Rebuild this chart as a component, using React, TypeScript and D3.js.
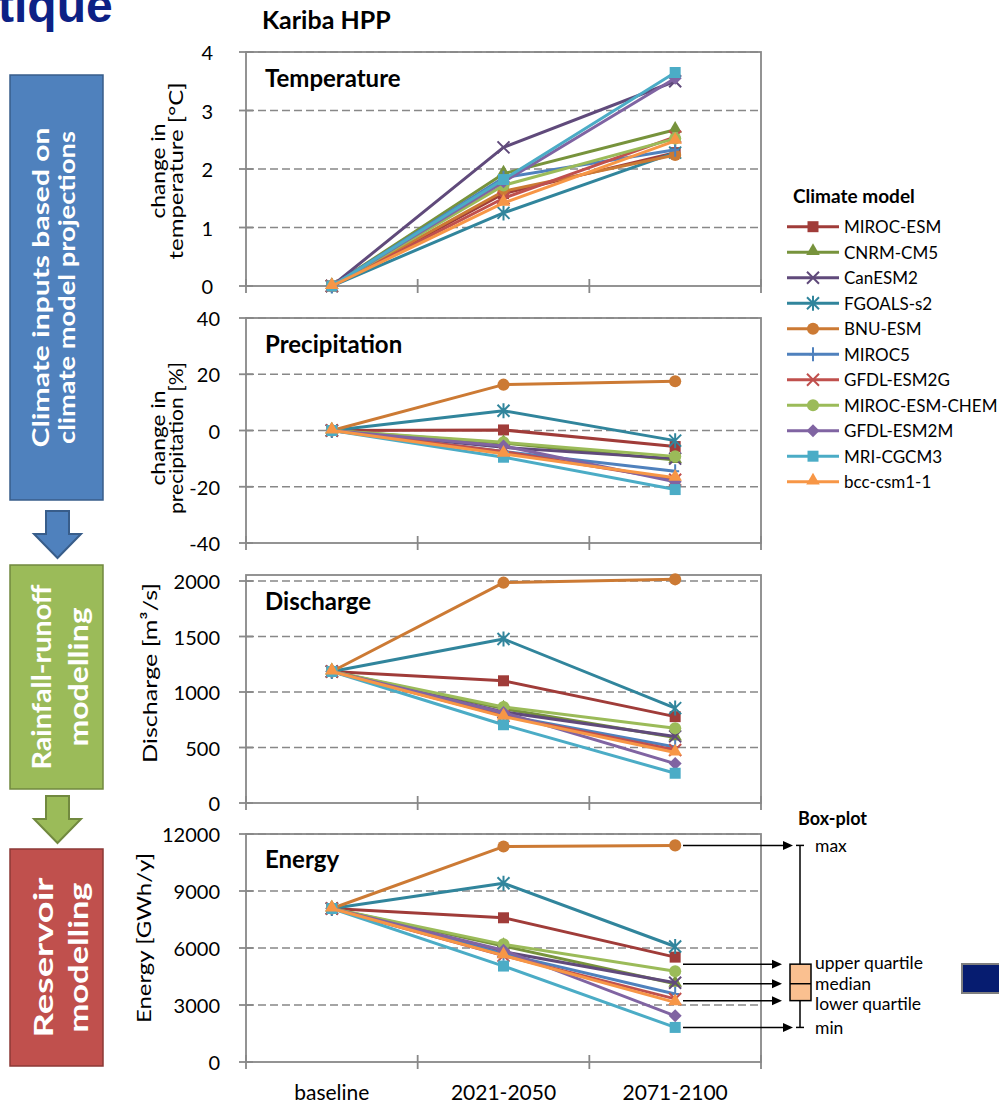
import React from "react";
import * as d3 from "d3";

const periods = ["baseline", "2021-2050", "2071-2100"];
const models = [
  "MIROC-ESM", "CNRM-CM5", "CanESM2", "FGOALS-s2", "BNU-ESM", "MIROC5",
  "GFDL-ESM2G", "MIROC-ESM-CHEM", "GFDL-ESM2M", "MRI-CGCM3", "bcc-csm1-1",
];
const modelColors = [
  "#a03c39", "#77933c", "#604a7b", "#31859c", "#cc7a34", "#4f81bd",
  "#c0504d", "#9bbb59", "#8064a2", "#4bacc6", "#f79646",
];
const modelMarkers = [
  "square", "triangle", "times", "asterisk", "circle", "plus",
  "times", "circle", "diamond", "square", "triangle",
];

// one row per model: baseline, 2021-2050, 2071-2100
const temperature = [
  [0, 1.58, 2.28], [0, 1.92, 2.67], [0, 2.37, 3.5], [0, 1.25, 2.28],
  [0, 1.62, 2.24], [0, 1.85, 2.33], [0, 1.5, 2.55], [0, 1.72, 2.52],
  [0, 1.78, 3.55], [0, 1.82, 3.65], [0, 1.42, 2.48],
];
const precipitation = [
  [0, 0.2, -5.7], [0, -4.5, -10.5], [0, -6, -10], [0, 7, -3.6],
  [0, 16.3, 17.5], [0, -7.5, -14.5], [0, -7.5, -17.5], [0, -4.2, -9.2],
  [0, -5.5, -18.2], [0, -9.5, -21], [0, -8.3, -16.8],
];
const discharge = [
  [1185, 1101, 778], [1185, 850, 590], [1185, 820, 600], [1185, 1478, 855],
  [1185, 1985, 2015], [1185, 790, 505], [1185, 785, 478], [1185, 865, 674],
  [1185, 815, 355], [1185, 705, 268], [1185, 778, 455],
];
const energy = [
  [8080, 7590, 5520], [8080, 6100, 4120], [8080, 5800, 4170], [8080, 9410, 6080],
  [8080, 11340, 11400], [8080, 5700, 3580], [8080, 5600, 3320], [8080, 6190, 4780],
  [8080, 5880, 2430], [8080, 5050, 1820], [8080, 5610, 3140],
];

const tempTicks = [0, 1, 2, 3, 4];
const precTicks = [-40, -20, 0, 20, 40];
const dischTicks = [0, 500, 1000, 1500, 2000];
const energyTicks = [0, 3000, 6000, 9000, 12000];

const FONT = "Lato, 'Open Sans', Arial, sans-serif";
const AXIS = "#888888";

const panels = [
  { title: "Temperature", values: temperature, ticks: tempTicks, top: 52, bottom: 286, frameTop: 52, titleY: 87, tickRight: 213,
    axisTitle: ["change in", "temperature [°C]"], atX: [156.5, 175], atY: 171, atLen: [95, 177] },
  { title: "Precipitation", values: precipitation, ticks: precTicks, top: 318, bottom: 543, frameTop: 318, titleY: 353, tickRight: 220,
    axisTitle: ["change in", "precipitation [%]"], atX: [156.5, 175], atY: 438, atLen: [95, 152] },
  { title: "Discharge", values: discharge, ticks: dischTicks, top: 581, bottom: 803, frameTop: 575, titleY: 610, tickRight: 220,
    axisTitle: ["Discharge [m³/s]"], atX: [149], atY: 673, atLen: [180] },
  { title: "Energy", values: energy, ticks: energyTicks, top: 834, bottom: 1062, frameTop: 834, titleY: 868, tickRight: 220,
    axisTitle: ["Energy [GWh/y]"], atX: [143], atY: 938, atLen: [170] },
];

const x = d3.scaleBand<string>().domain(periods).range([246, 761]).padding(0);
const cx = (p: string) => (x(p) as number) + x.bandwidth() / 2;

function Marker({ type, color, px, py }: { type: string; color: string; px: number; py: number }) {
  const t = `translate(${px},${py})`;
  if (type === "square") return <path transform={t} d={d3.symbol(d3.symbolSquare, 121)()!} fill={color} />;
  if (type === "circle") return <path transform={t} d={d3.symbol(d3.symbolCircle, 115)()!} fill={color} />;
  if (type === "triangle") return <path transform={`translate(${px},${py - 1})`} d={d3.symbol(d3.symbolTriangle, 80)()!} fill={color} />;
  if (type === "diamond") return <path transform={t} d="M0,-6.5L6.5,0L0,6.5L-6.5,0Z" fill={color} />;
  if (type === "times") return <path transform={t} d="M-6,-6L6,6M-6,6L6,-6" stroke={color} strokeWidth={2} fill="none" />;
  if (type === "asterisk") return <path transform={t} d="M-6,-6L6,6M-6,6L6,-6M0,-7.5L0,7.5" stroke={color} strokeWidth={2} fill="none" />;
  if (type === "plus") return <path transform={t} d="M0,-7L0,7M-4,0L4,0" stroke={color} strokeWidth={2} fill="none" />;
  return null;
}

function Panel({ p }: { p: (typeof panels)[number] }) {
  const y = d3.scaleLinear().domain([p.ticks[0], p.ticks[p.ticks.length - 1]]).range([p.bottom, p.top]);
  const line = d3.line<number>().x((_, i) => cx(periods[i])).y((v) => y(v));
  const bounds = [...periods.map((q) => x(q) as number), 761];
  return (
    <g>
      {p.ticks.slice(1).map((t) => (
        <line key={t} x1={246} x2={761} y1={y(t)} y2={y(t)} stroke={AXIS} strokeWidth={1.6} strokeDasharray="8,4" />
      ))}
      <rect x={246} y={p.frameTop} width={515} height={p.bottom - p.frameTop} fill="none" stroke={AXIS} strokeWidth={1.8} />
      {p.ticks.map((t) => (
        <g key={t}>
          <line x1={239} x2={253} y1={y(t)} y2={y(t)} stroke={AXIS} strokeWidth={1.8} />
          <text x={p.tickRight} y={y(t)} textAnchor="end" dominantBaseline="central" fontSize={20} fill="#000">{t}</text>
        </g>
      ))}
      {bounds.map((b) => (
        <line key={b} x1={b} x2={b} y1={p.bottom - 7} y2={p.bottom + 7} stroke={AXIS} strokeWidth={1.8} />
      ))}
      <text x={265} y={p.titleY} fontSize={24} fontWeight="bold">{p.title}</text>
      {p.axisTitle.map((s, i) => (
        <text key={s} transform={`translate(${p.atX[i]},${p.atY}) rotate(-90)`} textAnchor="middle" dominantBaseline="central"
          fontSize={20} textLength={p.atLen[i]} lengthAdjust="spacingAndGlyphs">{s}</text>
      ))}
      {p.values.map((vals, m) => (
        <g key={models[m]}>
          <path d={line(vals)!} fill="none" stroke={modelColors[m]} strokeWidth={3} strokeLinejoin="round" />
          {vals.map((v, i) => (
            <Marker key={i} type={modelMarkers[m]} color={modelColors[m]} px={cx(periods[i])} py={y(v)} />
          ))}
        </g>
      ))}
    </g>
  );
}

function Legend() {
  const ly = (i: number) => 226.7 + i * 25.5;
  return (
    <g>
      <text x={793} y={195} dominantBaseline="central" fontSize={19} fontWeight="bold">Climate model</text>
      {models.map((m, i) => (
        <g key={m}>
          <line x1={787} x2={839} y1={ly(i)} y2={ly(i)} stroke={modelColors[i]} strokeWidth={3} />
          <Marker type={modelMarkers[i]} color={modelColors[i]} px={813} py={ly(i)} />
          <text x={844} y={ly(i)} dominantBaseline="central" fontSize={17}>{m}</text>
        </g>
      ))}
    </g>
  );
}

function BoxPlotKey() {
  const p = panels[3];
  const y = d3.scaleLinear().domain([p.ticks[0], p.ticks[p.ticks.length - 1]]).range([p.bottom, p.top]);
  const last = energy.map((r) => r[2]).sort(d3.ascending);
  const stats = [
    { label: "max", v: d3.max(last)!, end: 793, dy: 0 },
    { label: "upper quartile", v: d3.quantile(last, 0.75)!, end: 782, dy: -1.5 },
    { label: "median", v: d3.median(last)!, end: 782, dy: 0 },
    { label: "lower quartile", v: d3.quantile(last, 0.25)!, end: 782, dy: 3 },
    { label: "min", v: d3.min(last)!, end: 793, dy: 0 },
  ];
  const [mx, q3, md, q1, mn] = stats.map((s) => y(s.v));
  return (
    <g>
      <text x={798} y={818} dominantBaseline="central" fontSize={18} fontWeight="bold">Box-plot</text>
      {stats.map((s) => (
        <g key={s.label}>
          <line x1={683} x2={s.end - 9} y1={y(s.v)} y2={y(s.v)} stroke="#000" strokeWidth={1.5} />
          <path d={`M${s.end},${y(s.v)}L${s.end - 10},${y(s.v) - 4.5}L${s.end - 10},${y(s.v) + 4.5}Z`} fill="#000" />
          <text x={815} y={y(s.v) + s.dy} dominantBaseline="central" fontSize={17.5}>{s.label}</text>
        </g>
      ))}
      <line x1={800} x2={800} y1={mx} y2={mn} stroke="#000" strokeWidth={1.5} />
      <line x1={796} x2={804} y1={mx} y2={mx} stroke="#000" strokeWidth={1.5} />
      <line x1={796} x2={804} y1={mn} y2={mn} stroke="#000" strokeWidth={1.5} />
      <rect x={790} y={q3} width={21} height={q1 - q3} fill="#fac090" stroke="#000" strokeWidth={1.5} />
      <line x1={790} x2={811} y1={md} y2={md} stroke="#000" strokeWidth={1.5} />
    </g>
  );
}

function DownArrow({ top, fill, stroke }: { top: number; fill: string; stroke: string }) {
  const d = `M46,${top}L69,${top}L69,${top + 23}L81,${top + 23}L57.5,${top + 47}L34,${top + 23}L46,${top + 23}Z`;
  return <path d={d} fill={fill} stroke={stroke} strokeWidth={2} />;
}

function Stage({ y0, y1, fill, stroke, lines, lx, len, size }: {
  y0: number; y1: number; fill: string; stroke: string; lines: string[]; lx: number[]; len: number[]; size: number;
}) {
  const cy = (y0 + y1) / 2;
  return (
    <g>
      <rect x={10} y={y0} width={93} height={y1 - y0} fill={fill} stroke={stroke} strokeWidth={1.5} />
      {lines.map((s, i) => (
        <text key={s + i} transform={`translate(${lx[i]},${cy}) rotate(-90)`} textAnchor="middle" dominantBaseline="central"
          fontSize={size} fontWeight="bold" fill="#fff" textLength={len[i]} lengthAdjust="spacingAndGlyphs">{s}</text>
      ))}
    </g>
  );
}

export default function App() {
  return (
    <div style={{ position: "absolute", left: 0, top: 0 }}>
      <svg width={999} height={1106} style={{ display: "block", fontFamily: FONT }}>
        <rect width={999} height={1106} fill="#fff" />
        <text x={-2} y={22} fontSize={48} fontWeight="bold" fill="#0d2185" fontFamily="Arial, 'Liberation Sans', sans-serif">tique</text>
        <text x={262} y={29} fontSize={25} fontWeight="bold">Kariba HPP</text>

        <Stage y0={75} y1={500} fill="#4f81bd" stroke="#385d8a" lines={["Climate inputs based on", "climate model projections"]}
          lx={[40, 66]} len={[320, 313]} size={23} />
        <DownArrow top={511} fill="#4f81bd" stroke="#385d8a" />
        <Stage y0={565} y1={789} fill="#9bbb59" stroke="#71893f" lines={["Rainfall-runoff", "modelling"]}
          lx={[40.5, 77.5]} len={[185, 139]} size={27} />
        <DownArrow top={796} fill="#9bbb59" stroke="#71893f" />
        <Stage y0={849} y1={1066} fill="#c0504d" stroke="#8c3836" lines={["Reservoir", "modelling"]}
          lx={[42.5, 77.5]} len={[160, 150]} size={27} />

        {panels.map((p) => <Panel key={p.title} p={p} />)}

        {periods.map((q) => (
          <text key={q} x={cx(q)} y={1100} textAnchor="middle" fontSize={21}>{q}</text>
        ))}

        <Legend />
        <BoxPlotKey />

        <rect x={962} y={964} width={45} height={29} fill="#061c70" stroke="#7f7f7f" strokeWidth={2} />
      </svg>
    </div>
  );
}
